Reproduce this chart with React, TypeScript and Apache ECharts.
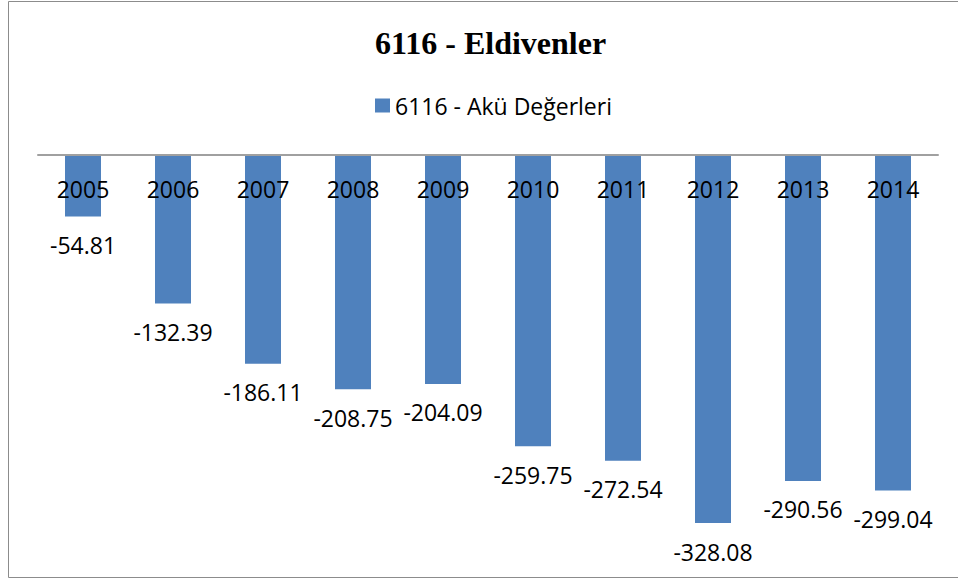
import React, { useEffect, useRef } from "react";
import * as echarts from "echarts";

const years = ["2005", "2006", "2007", "2008", "2009", "2010", "2011", "2012", "2013", "2014"];
const values = [-54.81, -132.39, -186.11, -208.75, -204.09, -259.75, -272.54, -328.08, -290.56, -299.04];
const titleText = "6116 - Eldivenler";
const seriesName = "6116 - Akü Değerleri";

export default function App() {
  const ref = useRef<HTMLDivElement>(null);
  useEffect(() => {
    if (!ref.current) return;
    const chart = echarts.init(ref.current, undefined, { renderer: "svg" });
    chart.setOption({
      animation: false,
      backgroundColor: "#ffffff",
      title: {
        text: titleText,
        left: 370,
        top: 22,
        textStyle: { fontFamily: "Liberation Serif", fontWeight: "bold", fontSize: 32, color: "#000" },
      },
      legend: {
        left: 370,
        top: 89,
        icon: "rect",
        itemWidth: 15,
        itemHeight: 14,
        data: [seriesName],
        textStyle: { fontFamily: "Open Sans", fontSize: 23, color: "#000" },
      },
      grid: { left: 38, right: 20, top: 155, height: 392.6, containLabel: false, outerBoundsMode: "none" },
      xAxis: {
        type: "category",
        data: years,
        position: "top",
        z: 10,
        axisLine: { onZero: false, lineStyle: { color: "#a0a0a0", width: 2 } },
        axisTick: { show: false },
        axisLabel: { inside: true, margin: 22, fontFamily: "Open Sans", fontSize: 23, color: "#000" },
      },
      yAxis: {
        type: "value",
        min: -350,
        max: 0,
        show: false,
        splitLine: { show: false },
      },
      graphic: [
        {
          type: "rect",
          shape: { x: 8.5, y: 1.5, width: 960, height: 576 },
          style: { fill: "none", stroke: "#8c8c8c", lineWidth: 1 },
          silent: true,
        },
      ],
      series: [
        {
          name: seriesName,
          type: "bar",
          data: values,
          barCategoryGap: "60%",
          itemStyle: { color: "#4F81BD" },
          label: {
            show: true,
            position: "bottom",
            distance: 17,
            fontFamily: "Open Sans",
            fontSize: 23,
            color: "#000",
            formatter: (p: any) => p.value.toFixed(2),
          },
        },
      ],
    });
    return () => chart.dispose();
  }, []);
  return <div ref={ref} style={{ position: "absolute", left: 0, top: 0, width: 958, height: 579 }} />;
}
